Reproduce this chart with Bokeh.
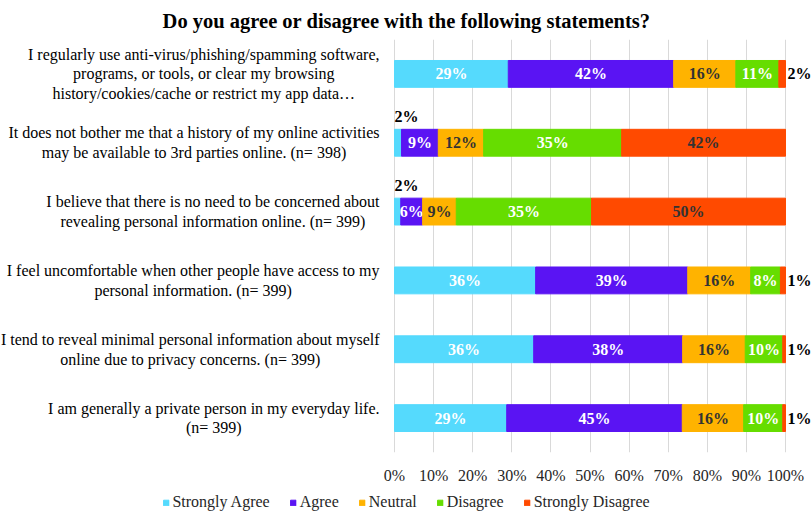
from bokeh.plotting import figure
from bokeh.layouts import column
from bokeh.models import (ColumnDataSource, Range1d, FixedTicker, CustomJSTickFormatter,
                          Legend, LegendItem)
from bokeh.core.properties import value
from bokeh.embed import file_html
from bokeh.resources import INLINE

# ---------------- data ----------------
statements = [
    "I regularly use anti-virus/phishing/spamming software,\nprograms, or tools, or clear my browsing\nhistory/cookies/cache or restrict my app data\u2026",
    "It does not bother me that a history of my online activities\nmay be available to 3rd parties online. (n= 398)",
    "I believe that there is no need to be concerned about\nrevealing personal information online. (n= 399)",
    "I feel uncomfortable when other people have access to my\npersonal information. (n= 399)",
    "I tend to reveal minimal personal information about myself\nonline due to privacy concerns. (n= 399)",
    "I am generally a private person in my everyday life.\n(n= 399)",
]
series_names = ["Strongly Agree", "Agree", "Neutral", "Disagree", "Strongly Disagree"]
strongly_agree = [29.1, 1.8, 1.6, 36.1, 35.6, 28.7]
agree = [42.3, 9.4, 5.6, 38.9, 38.1, 44.9]
neutral = [15.9, 11.6, 8.6, 16.1, 16.0, 15.7]
disagree = [11.0, 35.3, 34.6, 7.6, 9.6, 10.0]
strongly_disagree = [1.7, 41.9, 49.6, 1.3, 0.7, 0.7]
x_ticks = [0, 10, 20, 30, 40, 50, 60, 70, 80, 90, 100]

# ---------------- style ----------------
FONT = "Liberation Serif"
colors = ["#55DAFD", "#5A14F3", "#FFB300", "#66DD00", "#FF4A00"]
inside_text_colors = ["white", "white", "#333333", "white", "#333333"]
W = 812
H_MAIN, H_LEG = 486, 26
ZERO_PX, FULL_PX = 394, 785
ppu = (FULL_PX - ZERO_PX) / 100.0
x_start = -ZERO_PX / ppu
x_end = (W - ZERO_PX) / ppu

series = [strongly_agree, agree, neutral, disagree, strongly_disagree]
keys = ["sa", "a", "n", "d", "sd"]
rows = list(range(len(statements)))
data = {"row": rows}
for k, vals in zip(keys, series):
    data[k] = vals
source = ColumnDataSource(data)

p = figure(width=W, height=H_MAIN, x_range=Range1d(x_start, x_end),
           y_range=Range1d(len(rows) - 0.5, -0.5),
           output_backend="svg", toolbar_location=None, y_axis_location=None,
           min_border_left=0, min_border_right=0, min_border_top=0, min_border_bottom=0,
           outline_line_color=None)

p.title.text = "Do you agree or disagree with the following statements?"
p.title.align = "center"
p.title.text_font = FONT
p.title.text_font_size = "20.5px"
p.title.text_font_style = "bold"
p.title.text_color = "black"
p.title.standoff = 15

renderers = p.hbar_stack(keys, y="row", height=0.39, color=colors, source=source)

# segment labels
in_x, in_y, in_t, in_c = [], [], [], []
ab_x, ab_y, ab_t = [], [], []
rt_x, rt_y, rt_t = [], [], []
for r in rows:
    left = 0.0
    for si, vals in enumerate(series):
        v = vals[r]
        txt = "%d%%" % int(v + 0.5)
        if v < 3:
            if si == 0:
                ab_x.append(left); ab_y.append(r); ab_t.append(txt)
            else:
                rt_x.append(left + v); rt_y.append(r); rt_t.append(txt)
        else:
            in_x.append(left + v / 2); in_y.append(r); in_t.append(txt); in_c.append(inside_text_colors[si])
        left += v

lbl_font = dict(text_font=value(FONT), text_font_size="16px", text_font_style="bold")
p.text(x=in_x, y=in_y, text=in_t, text_color=in_c, text_align="center",
       text_baseline="middle", **lbl_font)
p.text(x=ab_x, y=ab_y, text=ab_t, text_color="black", text_align="left",
       text_baseline="middle", y_offset=-26, **lbl_font)
p.text(x=rt_x, y=rt_y, text=rt_t, text_color="black", text_align="left",
       text_baseline="middle", x_offset=2, **lbl_font)

# category labels (block right-aligned, lines centred)
p.text(x=[0] * len(rows), y=rows, text=statements, x_offset=-15,
       anchor=value("center_right"), text_align="center", text_baseline="middle",
       text_font=value(FONT), text_font_size="16px", text_color="black",
       text_line_height=1.15)

# axes / grid
p.xaxis.ticker = FixedTicker(ticks=x_ticks)
p.xaxis.formatter = CustomJSTickFormatter(code="return tick + '%';")
p.xaxis.axis_line_color = None
p.xaxis.major_tick_line_color = None
p.xaxis.minor_tick_line_color = None
p.xaxis.major_label_text_font = FONT
p.xaxis.major_label_text_font_size = "16px"
p.xaxis.major_label_text_color = "#262626"
p.xaxis.major_label_standoff = 8
p.xgrid.grid_line_color = "#D9D9D9"
p.ygrid.visible = False

# legend strip (swatch renderers sit outside the visible range)
leg = figure(width=W, height=H_LEG, x_range=Range1d(0, 1), y_range=Range1d(0, 1),
             output_backend="svg", toolbar_location=None, x_axis_location=None,
             y_axis_location=None, min_border=0, outline_line_color=None)
leg.grid.visible = False
leg_renderers = [leg.hbar(y=[5], left=[4], right=[5], height=0.5, color=c) for c in colors]
legend = Legend(items=[LegendItem(label=n, renderers=[r]) for n, r in zip(series_names, leg_renderers)],
                orientation="horizontal", location="bottom_center", border_line_color=None,
                background_fill_alpha=0, label_text_font=FONT, label_text_font_size="16px",
                label_text_color="#262626",
                glyph_width=7, glyph_height=7, label_standoff=3, spacing=20,
                padding=0, margin=0, label_height=20)
leg.add_layout(legend, "center")

layout = column(p, leg, spacing=0)
open("out.html", "w").write(file_html(layout, INLINE))
